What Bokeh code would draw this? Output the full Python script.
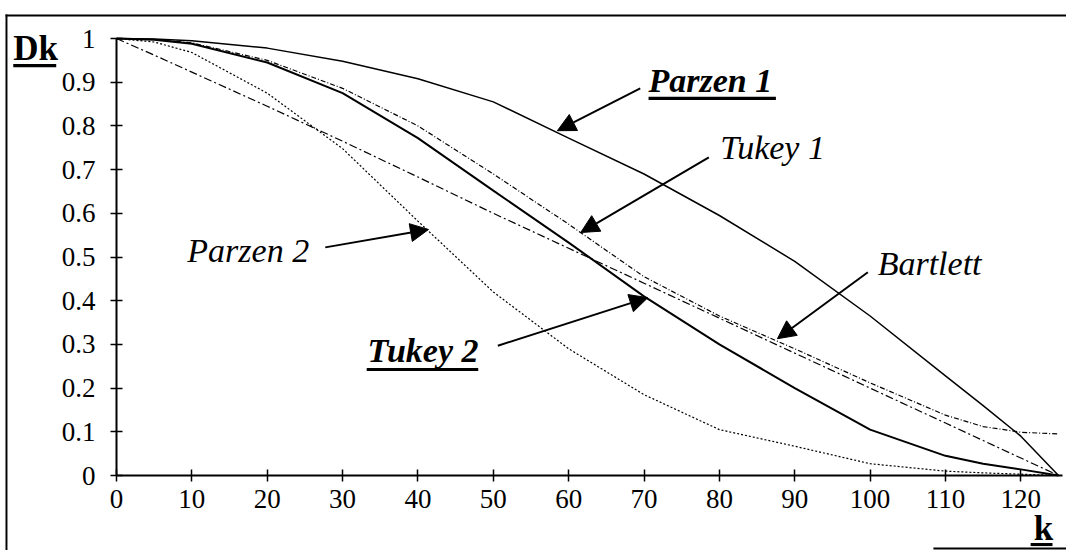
from bokeh.plotting import figure
from bokeh.models import Label, Arrow, NormalHead, FixedTicker, BoxAnnotation, Range1d
from bokeh.embed import file_html
from bokeh.resources import INLINE

# ---- data ----
K = [0, 5, 10, 20, 30, 40, 50, 60, 70, 80, 90, 100, 110, 115, 120, 125]
parzen1 = [1.0, 0.999, 0.995, 0.978, 0.948, 0.908, 0.855, 0.772, 0.69, 0.595, 0.49, 0.365, 0.228, 0.16, 0.09, 0.0]
tukey1 = [1.0, 0.998, 0.99, 0.95, 0.886, 0.80, 0.69, 0.575, 0.455, 0.365, 0.29, 0.212, 0.138, 0.112, 0.099, 0.095]
tukey2 = [1.0, 0.997, 0.988, 0.945, 0.875, 0.772, 0.652, 0.533, 0.41, 0.30, 0.20, 0.105, 0.045, 0.027, 0.014, 0.0]
bartlett = [1.0, 0.962, 0.923, 0.845, 0.765, 0.683, 0.60, 0.52, 0.44, 0.36, 0.28, 0.20, 0.12, 0.08, 0.04, 0.0]
parzen2 = [1.0, 0.992, 0.968, 0.875, 0.748, 0.582, 0.42, 0.29, 0.185, 0.105, 0.067, 0.027, 0.01, 0.006, 0.003, 0.0]

x_ticks = [0, 10, 20, 30, 40, 50, 60, 70, 80, 90, 100, 110, 120]
y_ticks = [0, 0.1, 0.2, 0.3, 0.4, 0.5, 0.6, 0.7, 0.8, 0.9, 1]
y_tick_labels = ["0", "0.1", "0.2", "0.3", "0.4", "0.5", "0.6", "0.7", "0.8", "0.9", "1"]

SERIF = "Liberation Serif"

p = figure(width=1066, height=550,
           x_range=Range1d(-15.393, 126.06), y_range=Range1d(-0.17162, 1.08696),
           output_backend="svg", toolbar_location=None, min_border=0)
p.outline_line_color = None
p.xgrid.visible = False
p.ygrid.visible = False
p.background_fill_color = "white"
p.border_fill_color = "white"

for ax in (p.xaxis[0], p.yaxis[0]):
    ax.fixed_location = 0
    ax.axis_line_color = "black"
    ax.axis_line_width = 2
    ax.major_tick_line_color = "black"
    ax.major_tick_line_width = 1.5
    ax.major_tick_in = 6
    ax.major_tick_out = 6
    ax.minor_tick_line_color = None
    ax.major_label_text_font = SERIF
    ax.major_label_text_font_size = "27px"
    ax.major_label_text_color = "black"

p.xaxis[0].bounds = (0, 125.5)
p.xaxis[0].ticker = FixedTicker(ticks=x_ticks)
p.xaxis[0].major_label_standoff = 8
p.yaxis[0].bounds = (0, 1)
p.yaxis[0].ticker = FixedTicker(ticks=y_ticks)
p.yaxis[0].major_label_overrides = {t: s for t, s in zip(y_ticks, y_tick_labels)}
p.yaxis[0].major_label_standoff = 15

# ---- box border ----
def rect(left=None, right=None, bottom=None, top=None):
    p.add_layout(BoxAnnotation(left=left, right=right, bottom=bottom, top=top,
                               fill_color="black", fill_alpha=1, line_color=None))

rect(left=-14.73, bottom=1.0503, top=1.0549)          # top edge
rect(left=-14.73, right=-14.47, top=1.0549)           # left edge
rect(left=108.4, bottom=-0.1693, top=-0.1648)         # partial bottom edge

# ---- curves ----
p.line(K, parzen2, line_color="black", line_width=1.2, line_dash="2 2")
p.line(K, bartlett, line_color="black", line_width=1.2, line_dash="8 3 2 3")
p.line(K, tukey1, line_color="black", line_width=1.2, line_dash="5 2 1 2")
p.line(K, parzen1, line_color="black", line_width=1.5)
p.line(K, tukey2, line_color="black", line_width=2)

# ---- labels ----
def lab(x, y, text, style="italic", size="34px"):
    p.add_layout(Label(x=x, y=y, text=text, text_font=SERIF, text_font_size=size,
                       text_font_style=style, text_color="black",
                       text_align="left", text_baseline="alphabetic"))

def uline(x0, x1, yc, h=0.007):
    rect(left=x0, right=x1, bottom=yc - h / 2, top=yc + h / 2)

lab(70.6, 0.904, "Parzen 1", "bold italic")
uline(70.6, 87.5, 0.863)
lab(80.1, 0.751, "Tukey 1")
lab(101.0, 0.485, "Bartlett")
lab(9.4, 0.515, "Parzen 2")
lab(33.3, 0.286, "Tukey 2", "bold italic")
uline(33.2, 48.0, 0.2426)
lab(-13.7, 0.977, "Dk", "bold", "35px")
uline(-13.7, -8.0, 0.938)
lab(121.7, -0.121, "k", "bold", "35px")
uline(121.3, 124.2, -0.158)

# ---- arrows ----
arrows = [
    ((69.5, 0.886), (58.5, 0.789)),
    ((78.6, 0.728), (61.6, 0.556)),
    ((99.7, 0.465), (87.7, 0.313)),
    ((27.7, 0.522), (41.4, 0.563)),
    ((50.6, 0.297), (70.5, 0.407)),
]
for (xs, ys), (xe, ye) in arrows:
    p.add_layout(Arrow(x_start=xs, y_start=ys, x_end=xe, y_end=ye, line_color="black", line_width=2,
                       end=NormalHead(size=18, fill_color="black", line_color="black")))

open("out.html", "w").write(file_html(p, INLINE))
